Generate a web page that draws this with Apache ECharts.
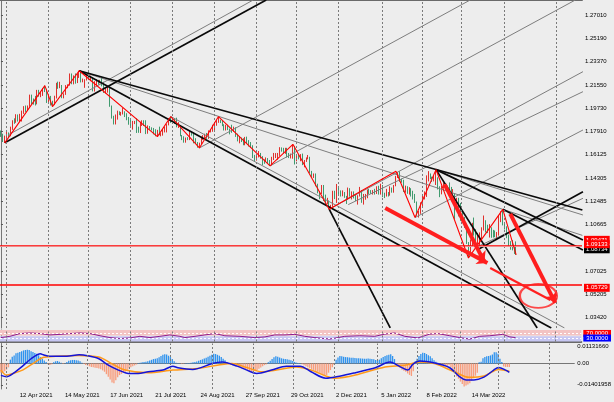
<!DOCTYPE html>
<html><head><meta charset="utf-8">
<script src="https://cdn.jsdelivr.net/npm/echarts@6/dist/echarts.min.js"></script>
<style>html,body{margin:0;padding:0;background:#ededed}#c{width:614px;height:402px}</style>
</head><body><div id="c"></div>
<script>
// ---------- DATA ----------
const firstOpen = 1.1795;
const closes = [
1.1763,1.1719,1.1728,1.1779,1.1763, 1.1812,1.1874,1.1870,1.1914,1.1899,
1.1911,1.1947,1.1978,1.1966,1.1982, 1.2036,1.2035,1.2034,1.2014,1.2097,
1.2082,1.2088,1.2126,1.2123,1.2020, 1.2062,1.2013,1.2006,1.2065,1.2164,
1.2131,1.2147,1.2074,1.2081,1.2145, 1.2151,1.2222,1.2173,1.2225,1.2179,
1.2215,1.2250,1.2193,1.2193,1.2193, 1.2227,1.2212,1.2212,1.2129,1.2166,
1.2191,1.2173,1.2179,1.2173,1.2105, 1.2121,1.2125,1.1995,1.1907,1.1864,
1.1917,1.1941,1.1925,1.1931,1.1936, 1.1925,1.1895,1.1858,1.1847,1.1864,
1.1866,1.1823,1.1791,1.1842,1.1875, 1.1861,1.1776,1.1835,1.1812,1.1808,
1.1801,1.1780,1.1794,1.1771,1.1772, 1.1801,1.1817,1.1844,1.1888,1.1869,
1.1870,1.1868,1.1834,1.1834,1.1761, 1.1736,1.1719,1.1738,1.1728,1.1795,
1.1778,1.1712,1.1710,1.1676,1.1697, 1.1746,1.1753,1.1772,1.1752,1.1794,
1.1799,1.1808,1.1842,1.1876,1.1880, 1.1869,1.1842,1.1818,1.1828,1.1813,
1.1806,1.1805,1.1818,1.1764,1.1726, 1.1727,1.1724,1.1689,1.1740,1.1720,
1.1695,1.1683,1.1596,1.1579,1.1596, 1.1621,1.1598,1.1555,1.1554,1.1571,
1.1552,1.1528,1.1593,1.1595,1.1601, 1.1608,1.1665,1.1653,1.1623,1.1643,
1.1608,1.1598,1.1603,1.1682,1.1558, 1.1607,1.1580,1.1612,1.1553,1.1567,
1.1588,1.1593,1.1480,1.1445,1.1445, 1.1368,1.1320,1.1319,1.1369,1.1289,
1.1236,1.1250,1.1198,1.1211,1.1319, 1.1292,1.1338,1.1320,1.1303,1.1315,
1.1284,1.1265,1.1342,1.1292,1.1316, 1.1284,1.1258,1.1289,1.1330,1.1239,
1.1279,1.1281,1.1330,1.1327,1.1318, 1.1327,1.1310,1.1349,1.1325,1.1370,
1.1298,1.1287,1.1312,1.1296,1.1359, 1.1326,1.1366,1.1441,1.1455,1.1411,
1.1409,1.1325,1.1343,1.1311,1.1344, 1.1325,1.1302,1.1241,1.1144,1.1148,
1.1234,1.1272,1.1301,1.1440,1.1456, 1.1441,1.1416,1.1422,1.1426,1.1348,
1.1305,1.1358,1.1373,1.1360,1.1320, 1.1309,1.1307,1.1308,1.1193,1.1270,
1.1219,1.1124,1.1120,1.1065,1.0930, 1.0856,1.0899,1.1077,1.0986,1.0911,
1.0942,1.0957,1.1034,1.1093,1.1051, 1.1017,1.1031,1.1006,1.0997,1.0982,
1.0985,1.1090,1.1158,1.1067,1.1047, 1.0972,1.0903,1.0901,1.0878,1.0876,
1.0874];
const highs = [
1.1800,1.1775,1.1760,1.1795,1.1785, 1.1830,1.1880,1.1895,1.1927,1.1925,
1.1930,1.1955,1.1990,1.1995,1.1995, 1.2080,1.2080,1.2050,1.2070,1.2117,
1.2117,1.2100,1.2131,1.2150,1.2125, 1.2076,1.2070,1.2032,1.2071,1.2172,
1.2181,1.2180,1.2155,1.2090,1.2154, 1.2160,1.2245,1.2245,1.2230,1.2245,
1.2245,1.2266,1.2262,1.2205,1.2200, 1.2230,1.2255,1.2228,1.2215,1.2185,
1.2200,1.2195,1.2195,1.2218,1.2180, 1.2130,1.2145,1.2140,1.1995,1.1915,
1.1925,1.1955,1.1950,1.1945,1.1975, 1.1950,1.1935,1.1905,1.1885,1.1875,
1.1875,1.1895,1.1830,1.1868,1.1880, 1.1880,1.1880,1.1840,1.1835,1.1825,
1.1820,1.1810,1.1805,1.1830,1.1780, 1.1812,1.1830,1.1850,1.1895,1.1909,
1.1885,1.1890,1.1900,1.1865,1.1840, 1.1765,1.1755,1.1745,1.1748,1.1800,
1.1795,1.1785,1.1740,1.1710,1.1705, 1.1752,1.1764,1.1775,1.1781,1.1801,
1.1810,1.1845,1.1857,1.1881,1.1909, 1.1885,1.1880,1.1849,1.1845,1.1845,
1.1815,1.1845,1.1830,1.1825,1.1775, 1.1755,1.1745,1.1740,1.1750,1.1752,
1.1725,1.1710,1.1685,1.1610,1.1610, 1.1640,1.1625,1.1600,1.1575,1.1590,
1.1585,1.1570,1.1595,1.1625,1.1624, 1.1625,1.1670,1.1668,1.1665,1.1665,
1.1665,1.1625,1.1620,1.1692,1.1680, 1.1615,1.1615,1.1616,1.1620,1.1570,
1.1590,1.1609,1.1595,1.1485,1.1465, 1.1465,1.1385,1.1325,1.1375,1.1375,
1.1300,1.1275,1.1255,1.1220,1.1330, 1.1330,1.1383,1.1353,1.1333,1.1333,
1.1320,1.1290,1.1355,1.1350,1.1325, 1.1325,1.1305,1.1295,1.1360,1.1336,
1.1305,1.1305,1.1340,1.1345,1.1335, 1.1335,1.1345,1.1365,1.1369,1.1385,
1.1375,1.1315,1.1345,1.1320,1.1365, 1.1355,1.1375,1.1446,1.1475,1.1482,
1.1425,1.1416,1.1370,1.1365,1.1358, 1.1350,1.1330,1.1305,1.1246,1.1173,
1.1240,1.1290,1.1325,1.1450,1.1483, 1.1465,1.1440,1.1448,1.1495,1.1435,
1.1365,1.1370,1.1395,1.1385,1.1369, 1.1395,1.1360,1.1343,1.1312,1.1275,
1.1275,1.1235,1.1170,1.1125,1.1070, 1.0930,1.0950,1.1080,1.1121,1.1030,
1.0998,1.1005,1.1045,1.1137,1.1100, 1.1065,1.1070,1.1045,1.1025,1.1020,
1.1008,1.1137,1.1170,1.1185,1.1076, 1.1053,1.0988,1.0937,1.0945,1.0900,
1.0935];
const lows = [
1.1750,1.1710,1.1704,1.1727,1.1745, 1.1755,1.1805,1.1852,1.1860,1.1870,
1.1870,1.1870,1.1930,1.1945,1.1955, 1.1985,1.2005,1.2002,1.1995,1.2004,
1.2064,1.2060,1.2070,1.2100,1.2015, 1.2010,1.1995,1.1986,1.1998,1.2050,
1.2125,1.2130,1.2052,1.2051,1.2078, 1.2130,1.2150,1.2161,1.2160,1.2165,
1.2170,1.2210,1.2175,1.2176,1.2133, 1.2190,1.2200,1.2185,1.2105,1.2104,
1.2155,1.2157,1.2168,1.2145,1.2093, 1.2090,1.2095,1.1985,1.1893,1.1847,
1.1847,1.1885,1.1920,1.1915,1.1925, 1.1905,1.1880,1.1845,1.1820,1.1807,
1.1850,1.1781,1.1782,1.1780,1.1835, 1.1835,1.1772,1.1775,1.1805,1.1800,
1.1770,1.1755,1.1752,1.1763,1.1755, 1.1760,1.1785,1.1785,1.1840,1.1860,
1.1854,1.1852,1.1825,1.1820,1.1755, 1.1725,1.1705,1.1705,1.1725,1.1725,
1.1760,1.1700,1.1695,1.1666,1.1664, 1.1694,1.1727,1.1735,1.1735,1.1735,
1.1785,1.1790,1.1800,1.1837,1.1860, 1.1858,1.1834,1.1800,1.1800,1.1803,
1.1770,1.1782,1.1790,1.1750,1.1715, 1.1700,1.1710,1.1685,1.1685,1.1702,
1.1675,1.1665,1.1585,1.1563,1.1565, 1.1590,1.1580,1.1530,1.1540,1.1555,
1.1540,1.1524,1.1527,1.1570,1.1585, 1.1572,1.1602,1.1635,1.1620,1.1618,
1.1590,1.1585,1.1582,1.1580,1.1535, 1.1560,1.1575,1.1560,1.1530,1.1513,
1.1555,1.1575,1.1468,1.1432,1.1430, 1.1365,1.1310,1.1264,1.1305,1.1250,
1.1226,1.1225,1.1186,1.1186,1.1205, 1.1265,1.1235,1.1297,1.1285,1.1287,
1.1275,1.1227,1.1260,1.1284,1.1262, 1.1270,1.1250,1.1222,1.1285,1.1236,
1.1222,1.1260,1.1272,1.1305,1.1307, 1.1300,1.1300,1.1305,1.1300,1.1300,
1.1280,1.1273,1.1285,1.1285,1.1292, 1.1315,1.1315,1.1365,1.1430,1.1400,
1.1393,1.1320,1.1315,1.1306,1.1300, 1.1285,1.1262,1.1235,1.1135,1.1121,
1.1150,1.1210,1.1262,1.1282,1.1403, 1.1420,1.1399,1.1403,1.1375,1.1340,
1.1280,1.1302,1.1348,1.1336,1.1316, 1.1305,1.1290,1.1305,1.1106,1.1185,
1.1130,1.1095,1.1085,1.1040,1.0915, 1.0806,1.0850,1.0900,1.0980,1.0905,
1.0910,1.0903,1.0950,1.1020,1.1005, 1.1000,1.0965,1.0963,1.0965,1.0968,
1.0945,1.0980,1.1085,1.1060,1.1028, 1.0960,1.0900,1.0870,1.0865,1.0837,
1.0830];
const opens = [firstOpen].concat(closes.slice(0, closes.length - 1)); // FX daily open = prior close

const totalBars = 305;               // chart width incl. future space
const xLabelTexts = ['12 Apr 2021','14 May 2021','17 Jun 2021','21 Jul 2021','24 Aug 2021','27 Sep 2021','29 Oct 2021','2 Dec 2021','5 Jan 2022','8 Feb 2022','14 Mar 2022'];
const priceTicks = [1.27010,1.25190,1.23370,1.21550,1.19730,1.17910,1.16125,1.14305,1.12485,1.10665,1.07025,1.05205,1.03420];
const monthGridBars = [3,25,46,68,90,112,134,155,177,200,221,241,264,291];

// trend lines: [barIdx1, price1, barIdx2, price2]
const blackLines = [
  [2,1.1704, 139,1.2818],
  [41,1.2266, 304.7,1.1180],
  [41,1.2266, 288.4,1.0260],
  [172,1.1186, 204,1.0260],
  [228,1.1495, 281,1.0260],
  [263,1.1185, 305,1.0868],
  [228,1.1495, 305,1.0946],
  [249.5,1.0868, 305,1.1323]
];
const grayLines = [
  [3.7,1.1765, 132.2,1.2818],
  [104,1.1664, 245.9,1.2818],
  [141,1.1524, 301,1.2818],
  [172,1.1186, 305,1.2259],
  [182,1.1222, 305,1.2103],
  [217,1.1121, 305,1.1804],
  [41,1.2266, 304.7,1.0982],
  [228,1.1495, 305,1.1141],
  [249.5,1.0893, 305,1.1271],
  [89,1.1909, 295.3,1.0260]
];
const zigzag = [[2,1.1704],[23,1.2150],[27,1.1986],[41,1.2266],[82,1.1752],[89,1.1909],[104,1.1664],[114,1.1909],[141,1.1524],[153,1.1692],[172,1.1186],[207,1.1482],[217,1.1121],[228,1.1495],[245,1.0806],[263,1.1185],[270,1.0830]];
const redArrows = [
  [201.4,1.1196, 254.9,1.0767],
  [232.5,1.1380, 253.3,1.0775],
  [266.9,1.1149, 290.5,1.0455]
];
const redThick = [[256.4,1.0728, 287.9,1.0478]];
const targetCircle = [281.6, 1.0510];
const priceLevels = [
  {v:1.09471, text:'1.09471', color:'#ff0000', w:1.6, box:'#ff0000'},
  {v:1.08734, text:'1.08734', color:'#9db0e2', w:1, box:'#000000'},
  {v:1.09133, text:'1.09133', color:'#f08a8a', w:1, box:'#ff0000'},
  {v:1.05729, text:'1.05729', color:'#ff0000', w:1.6, box:'#ff0000'}
];

// RSI [bar, value]
const rsi = [[0,34],[4.7,45],[10,69],[15.2,74],[20.5,69],[25.7,57],[31,62],[36.2,69],[41.5,74],[46.7,69],[52,50],[57.2,34],[62.4,26],[67.7,31],[72.9,45],[78.2,34],[83.4,45],[88.6,57],[93.9,45],[96.5,34],[101.8,45],[107,57],[112.2,69],[117.5,50],[125.4,45],[133.2,34],[138.5,40],[143.7,57],[149,57],[154.2,62],[159.4,45],[164.7,34],[172.5,21],[180.4,45],[188.3,50],[196.1,45],[201.4,64],[206.6,74],[211.9,45],[218.7,31],[225,64],[229.2,69],[235.5,50],[240.7,34],[246,21],[251.2,45],[256.5,50],[263.3,62],[267,40],[270,34]];
const rsiLevels = [{v:70, text:'70.0000', box:'#ff0000'}, {v:30, text:'30.0000', box:'#0000ff'}];

// MACD (units of 0.001)
const macdLine = [[0,-7.8],[3,-8.7],[6.5,-6.5],[11,-2.2],[16,3.2],[21,6.5],[22.5,5.8],[26,4.8],[35,4.8],[41.5,5.8],[46.7,5.0],[52,3.2],[57,-1.0],[62.4,-4.3],[67.7,-6.5],[72.9,-6.5],[78.2,-5.4],[86,-4.3],[91.3,-1.7],[94,-2.8],[101.8,-3.9],[112.2,0],[117.5,1.0],[125.4,-1.7],[130.6,-4.3],[135.8,-6.5],[143.7,-4.3],[151.6,-1.7],[158.9,-1.7],[164.7,-5.4],[172.5,-9.7],[180.4,-8.2],[188.3,-6.0],[198.8,-2.8],[206.6,1.0],[211.9,-2.0],[216.1,-4.3],[218.7,-0.5],[222.4,1.7],[230.2,0.4],[238.1,-2.6],[243.9,-9.0],[247,-10.8],[251.2,-10.8],[256.5,-9.0],[261.7,-4.3],[264.3,-2.6],[268,-4.3],[270,-5.8]];
const macdSignal = [[0,-4.3],[3,-7.6],[6.5,-6.5],[11.5,-4.3],[17,0],[22,3.9],[29,4.8],[41.5,5.4],[52,4.3],[58.8,0],[66,-4.3],[78.2,-6.1],[91.3,-4.3],[104.4,-3.2],[114.9,-1.1],[122.7,0],[130.6,-2.6],[138.5,-5.4],[146.3,-4.3],[156.8,-2.2],[164.7,-4.3],[172.5,-8.2],[177.8,-9.7],[188.3,-7.6],[204,-2.2],[214.5,-1.1],[222.4,1.1],[230.2,0],[240.7,-5.4],[248.6,-9.1],[256.5,-8.2],[264.3,-3.9],[270,-5.0]];
const macdHist = [
-6,-5.5,-5,-4,-2.5,
2.6,4.5,5.4,6.9,7.2,7.6,8.2,8.7,9.0,9.1,9.0,8.2,7.6,7.0,6.5,5.5,4.3,3.2,2.0,1.1,
-0.5,-1,-0.5,
0.8,1.5,1.7,1.2,0.5,
-0.3,0.2,
1.0,1.8,2.2,2.4,2.4,2.2,2.0,1.5,
0.5,-0.3,
-1.0,-1.3,-1.8,-2.2,-2.5,-2.8,-3.0,-3.2,-3.8,-4.5,-5.4,-7.0,-8.7,-10.5,-12.5,-13.0,-11.0,-9.0,-7.6,-6.8,-6.0,-5.4,-4.8,-3.2,-2.5,-1.8,-1.2,-0.6,
0.3,0.5,0.8,1.0,1.2,1.5,2.0,2.5,3.0,3.2,3.5,4.2,5.0,5.8,6.1,6.0,5.2,4.3,3.0,1.5,
0.6,0.4,0.3,-0.3,-0.2,0.2,0.3,0.4,0.6,0.8,1.0,
1.3,1.8,2.4,2.8,3.3,3.9,4.5,5.2,5.9,6.5,6.3,5.8,5.2,4.3,3.2,2.2,1.0,
-0.5,-0.9,-1.2,-1.6,-2.0,-2.4,-2.8,-3.2,-3.6,-3.9,-4.4,-5.0,-5.4,-5.2,-4.8,-4.3,-3.5,-2.6,-1.8,-1.0,-0.5,
0.8,1.8,3.0,4.2,4.8,4.5,4.0,3.5,3.2,3.0,2.8,2.6,2.2,1.7,1.0,0.6,0.4,0.3,
-0.5,-1.1,-1.7,-2.4,-3.0,-3.6,-4.2,-4.8,-5.4,-6.1,-6.8,-7.5,-8.2,-7.5,-6.0,-4.3,-2.5,-1.0,
2.5,4.0,5.0,4.8,4.5,4.3,4.2,4.0,3.9,3.8,3.7,3.6,3.5,3.4,3.3,3.2,3.2,3.3,3.2,3.0,2.8,2.4,2.2,2.6,3.5,
4.3,5.0,5.5,5.8,6.1,5.0,3.0,
-0.8,-2.2,-3.0,-4.0,-4.8,-5.4,-6.5,-7.5,-8.2,-5.0,
1.5,3.2,5.0,6.3,7.1,7.0,6.3,5.5,4.8,3.5,2.2,1.2,
0.6,0.3,-0.3,-0.6,-1.0,-1.5,
-1.0,-2.5,-4.5,-6.5,-8.5,-10.0,-11.9,-13.5,-15.2,-14.5,-13.8,-13.0,-11.5,-9.7,-8.0,-6.0,
0.8,1.2,3.5,4.3,4.8,5.0,5.4,6.0,7.5,7.5,6.5,3.2,1.0,-2.0,-2.2,-2.2,-2.2];
const macdTickValues = [11.3166, 0, -14.01958];
const macdTickTexts = ['0.01131660', '0.00', '-0.01401958'];

// ---------- BUILD ----------
const months=['Jan','Feb','Mar','Apr','May','Jun','Jul','Aug','Sep','Oct','Nov','Dec'];
const dates=[];
let d=new Date(Date.UTC(2021,2,29));
while(dates.length<totalBars){const wd=d.getUTCDay(); if(wd!==0&&wd!==6) dates.push(d.getUTCDate()+' '+months[d.getUTCMonth()]+' '+d.getUTCFullYear()); d=new Date(d.getTime()+86400000);}
const xLabelIdx = xLabelTexts.map(t=>dates.indexOf(t));

const candleData = closes.map((c,i)=>[opens[i], c, lows[i], highs[i]]);
const FONT = 'Liberation Sans';
const vGrid = monthGridBars.map(i=>({xAxis:i}));
const vGridML = {silent:true, symbol:['none','none'], label:{show:false}, lineStyle:{color:'#7a7a7a', width:1, type:[2,2]}, data:vGrid, animation:false};

const series = [];
series.push({type:'line', xAxisIndex:1, yAxisIndex:0, data:[], markLine:vGridML, silent:true});
series.push({type:'candlestick', xAxisIndex:0, yAxisIndex:0, data:candleData,
  itemStyle:{color:'#e0302c', color0:'#3f9a6e', borderColor:'#e0302c', borderColor0:'#3f9a6e', borderWidth:1}, barMaxWidth:1.6, z:2});
grayLines.forEach(a=>series.push({type:'line', xAxisIndex:1, yAxisIndex:0, data:[[a[0],a[1]],[a[2],a[3]]], symbol:'none', silent:true, clip:true, lineStyle:{color:'#7d7d7d', width:1}, z:3}));
blackLines.forEach(a=>series.push({type:'line', xAxisIndex:1, yAxisIndex:0, data:[[a[0],a[1]],[a[2],a[3]]], symbol:'none', silent:true, clip:true, lineStyle:{color:'#0a0a0a', width:1.7}, z:4}));
series.push({type:'line', xAxisIndex:1, yAxisIndex:0, data:zigzag, symbol:'none', silent:true, clip:true, lineStyle:{color:'#ff0000', width:1.1}, z:5});
redThick.forEach(a=>series.push({type:'line', xAxisIndex:1, yAxisIndex:0, data:[[a[0],a[1]],[a[2],a[3]]], symbol:'none', silent:true, clip:true, lineStyle:{color:'#ff2020', width:2.2}, z:5}));
series.push({type:'lines', coordinateSystem:'cartesian2d', xAxisIndex:1, yAxisIndex:0, symbol:['none','arrow'], symbolSize:[0,10], silent:true,
  lineStyle:{color:'#ff1e1e', width:4, opacity:1}, data: redArrows.map(a=>({coords:[[a[0],a[1]],[a[2],a[3]]]})), z:6});
series.push({type:'scatter', xAxisIndex:1, yAxisIndex:0, data:[targetCircle], symbol:'circle', symbolSize:[37,24], silent:true,
  itemStyle:{color:'rgba(0,0,0,0)', borderColor:'#ff1e1e', borderWidth:2}, z:6});
series.push({type:'line', xAxisIndex:1, yAxisIndex:0, data:[], silent:true, z:7,
  markLine:{silent:true, symbol:['none','none'], animation:false, label:{show:false},
    data: priceLevels.map(p=>({yAxis:p.v, lineStyle:{color:p.color, width:p.w, type:'solid'}}))}});
// RSI
series.push({type:'line', xAxisIndex:2, yAxisIndex:1, data:rsi, symbol:'none', silent:true, lineStyle:{color:'#8e1a8e', width:1}, z:4,
  markArea:{silent:true, data:[[{yAxis:52, itemStyle:{color:'#f3c3c3'}},{yAxis:100}],[{yAxis:0, itemStyle:{color:'#c7c7f3'}},{yAxis:45}]]},
  markLine:{silent:true, symbol:['none','none'], animation:false, label:{show:false},
    data: rsiLevels.map(l=>({yAxis:l.v, lineStyle:{color:'#ffffff', width:1, type:[2,2]}}))}});
series.push({type:'line', xAxisIndex:2, yAxisIndex:1, data:[], markLine:vGridML, silent:true});
// MACD
series.push({type:'line', xAxisIndex:3, yAxisIndex:2, data:[], markLine:vGridML, silent:true});
series.push({type:'bar', xAxisIndex:3, yAxisIndex:2, data:macdHist.map((v,i)=>[i,v]), barWidth:1.3, silent:true,
  itemStyle:{color:p=>p.value[1]>=0?'#2f93ee':'#f89c7c'}, z:2});
series.push({type:'line', xAxisIndex:3, yAxisIndex:2, data:macdSignal, symbol:'none', smooth:0.3, silent:true, lineStyle:{color:'#ff9a1a', width:1.5}, z:3});
series.push({type:'line', xAxisIndex:3, yAxisIndex:2, data:macdLine, symbol:'none', smooth:0.3, silent:true, lineStyle:{color:'#1414d8', width:1.5}, z:4});

// boxed value tags on the price scale, one overlay axis each (drawn in order)
function tagAxis(grid, min, max, v, text, box, pad){
  return {type:'value', gridIndex:grid, position:'right', min, max, splitLine:{show:false}, axisLine:{show:false}, axisTick:{show:false},
    axisLabel:{customValues:[v], formatter:()=>text, color:'#ffffff', backgroundColor:box, padding:pad, fontFamily:FONT, fontSize:6, margin:2}};
}
const PMIN = 1.02595, PMAX = 1.2818;
const axisGray = '#6a6a6a';
const yAxes = [
  {type:'value', gridIndex:0, position:'right', min:PMIN, max:PMAX, splitLine:{show:false},
    axisLine:{show:true, lineStyle:{color:'#767676', width:1}},
    axisTick:{show:true, customValues:priceTicks, length:2, lineStyle:{color:'#555'}},
    axisLabel:{customValues:priceTicks, formatter:v=>v.toFixed(5), fontFamily:FONT, fontSize:6, color:'#000', margin:3}},
  {type:'value', gridIndex:1, position:'right', min:0, max:100, splitLine:{show:false}, axisLine:{show:true, lineStyle:{color:'#767676'}}, axisTick:{show:false}, axisLabel:{show:false}},
  {type:'value', gridIndex:2, position:'right', min:-16.81, max:13.28, splitLine:{show:false},
    axisLine:{show:true, lineStyle:{color:'#767676'}},
    axisTick:{show:true, customValues:macdTickValues, length:2, lineStyle:{color:'#555'}},
    axisLabel:{customValues:macdTickValues, formatter:v=>macdTickTexts[macdTickValues.findIndex(t=>Math.abs(t-v)<1e-6)]||'', fontFamily:FONT, fontSize:6, color:'#000', margin:3}}
];
priceLevels.forEach(p=>yAxes.push(tagAxis(0, PMIN, PMAX, p.v, p.text, p.box, [1,2,1,2])));
rsiLevels.forEach(l=>yAxes.push(tagAxis(1, 0, 100, l.v, l.text, l.box, [1,3,0,3])));

const option = {
  animation:false,
  backgroundColor:'#ededed',
  textStyle:{fontFamily:FONT},
  grid:[
    {left:0, top:0, width:582, height:328},
    {left:0, top:330, width:582, height:11.5},
    {left:0, top:343.5, width:582, height:45.5}
  ],
  xAxis:[
    {type:'category', gridIndex:0, data:dates, show:false, boundaryGap:true},
    {type:'value', gridIndex:0, min:-0.5, max:totalBars-0.5, axisLine:{show:true, lineStyle:{color:axisGray, width:2}}, axisTick:{show:false}, axisLabel:{show:false}, splitLine:{show:false}},
    {type:'value', gridIndex:1, min:-0.5, max:totalBars-0.5, axisLine:{show:true, lineStyle:{color:axisGray, width:2}}, axisTick:{show:false}, axisLabel:{show:false}, splitLine:{show:false}},
    {type:'value', gridIndex:2, min:-0.5, max:totalBars-0.5, axisLine:{show:true, lineStyle:{color:'#767676', width:1}}, axisTick:{show:false}, splitLine:{show:false},
      axisLabel:{show:true, customValues:xLabelIdx, formatter:v=>dates[Math.round(v)], align:'left', fontFamily:FONT, fontSize:6, color:'#000', margin:3, hideOverlap:false}}
  ],
  yAxis: yAxes,
  series
};
const chart = echarts.init(document.getElementById('c'));
chart.setOption(option);
</script></body></html>
